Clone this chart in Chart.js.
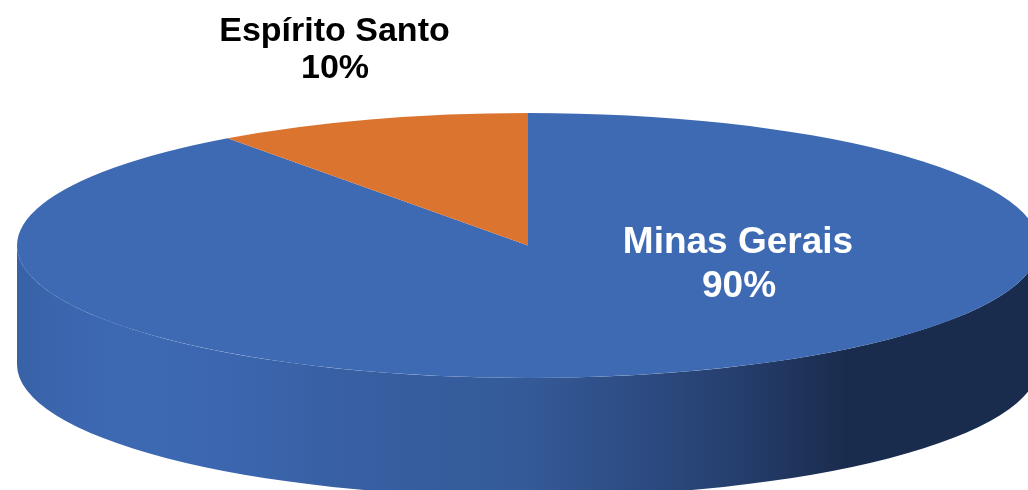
<!DOCTYPE html>
<html>
<head>
<meta charset="utf-8">
<script src="https://cdn.jsdelivr.net/npm/chart.js@4"></script>
<style>
  html, body { margin: 0; padding: 0; background: #fff; }
  #wrap { width: 1028px; height: 490px; overflow: hidden; }
</style>
</head>
<body>
<div id="wrap"><canvas id="pie" width="1028" height="490"></canvas></div>
<script>
const categories = ["Minas Gerais", "Espírito Santo"];
const shares = [90, 10];
const sliceColors = ["#3e6ab3", "#db742e"];

// ellipse the flat pie is squashed into, and how deep the wall is
const centerX = 528, centerY = 245.5, radiusX = 511, radiusY = 132.5, depth = 119;

const tilted = {
  id: "tilted",
  beforeDatasetsDraw(chart) {
    const ctx = chart.ctx;
    const grad = ctx.createLinearGradient(centerX - radiusX, 0, centerX + radiusX, 0);
    grad.addColorStop(0, "#3762a6");
    grad.addColorStop(0.04, "#3b66ae");
    grad.addColorStop(0.1, "#3d69b3");
    grad.addColorStop(0.2, "#3c67b0");
    grad.addColorStop(0.3, "#3860a4");
    grad.addColorStop(0.5, "#345a98");
    grad.addColorStop(0.7, "#263f6f");
    grad.addColorStop(0.81, "#1a2c4e");
    grad.addColorStop(1, "#1a2c4e");
    ctx.save();
    ctx.beginPath();
    ctx.ellipse(centerX, centerY, radiusX, radiusY, 0, Math.PI, 0, true);
    ctx.lineTo(centerX + radiusX, centerY + depth);
    ctx.ellipse(centerX, centerY + depth, radiusX, radiusY, 0, 0, Math.PI, false);
    ctx.closePath();
    ctx.fillStyle = grad;
    ctx.fill();
    ctx.restore();

    // squash the pie from its own centre
    const arc = chart.getDatasetMeta(0).data[0];
    ctx.save();
    ctx.translate(centerX, centerY);
    ctx.scale(radiusX / arc.outerRadius, radiusY / arc.outerRadius);
    ctx.translate(-arc.x, -arc.y);
  },
  afterDatasetsDraw(chart) {
    const ctx = chart.ctx;
    ctx.restore();
    ctx.textAlign = "center";
    ctx.textBaseline = "alphabetic";
    ctx.font = "bold 37px 'Liberation Sans'";
    ctx.fillStyle = "#fff";
    ctx.fillText(categories[0], 738, 253);
    ctx.fillText(shares[0] + "%", 739, 297);
    ctx.font = "bold 34px 'Liberation Sans'";
    ctx.fillStyle = "#000";
    ctx.fillText(categories[1], 334.5, 41);
    ctx.fillText(shares[1] + "%", 335, 78);
  }
};

new Chart(document.getElementById("pie"), {
  type: "pie",
  data: {
    labels: categories,
    datasets: [{ data: shares, backgroundColor: sliceColors, borderWidth: 0 }]
  },
  options: {
    responsive: false,
    animation: false,
    plugins: { legend: { display: false }, tooltip: { enabled: false } }
  },
  plugins: [tilted]
});
</script>
</body>
</html>
